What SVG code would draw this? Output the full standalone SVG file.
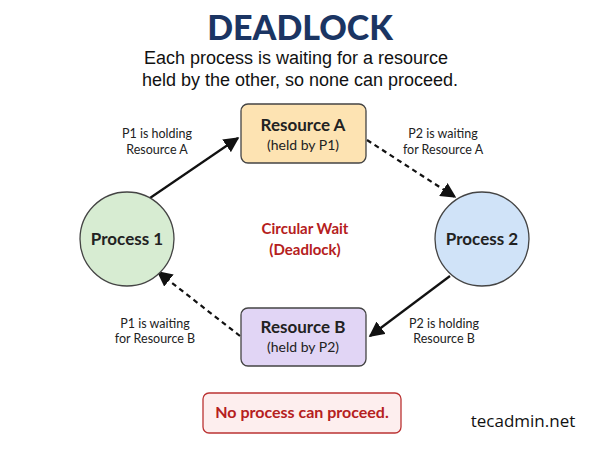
<svg xmlns="http://www.w3.org/2000/svg" width="600" height="450" viewBox="0 0 600 450">
<style>
text{font-family:Lato,"Open Sans",sans-serif;text-anchor:middle}
.n{font-size:17px;font-weight:bold;fill:#222}
.s{font-size:14px;fill:#222}
.l{font-size:12.5px;fill:#222}
.c{stroke:#111;stroke-width:2.2;fill:none}
.d{stroke-dasharray:5,4}
</style>
<defs><marker id="ah" viewBox="0 0 10 10" refX="9" refY="5" markerWidth="7" markerHeight="7" orient="auto"><path d="M0,0L10,5L0,10z" fill="#111"/></marker></defs>
<rect width="600" height="450" fill="#fff"/>
<text x="300" y="40" style="font-size:34px;font-weight:900;fill:#1b3563">DEADLOCK</text>
<text x="296" y="64" style="font-size:18px;fill:#111;font-family:'Liberation Sans',sans-serif">Each process is waiting for a resource</text>
<text x="300" y="86" style="font-size:18px;fill:#111;font-family:'Liberation Sans',sans-serif">held by the other, so none can proceed.</text>
<g id="connectors">
<line class="c" x1="150" y1="198" x2="238" y2="138" marker-end="url(#ah)"/>
<line class="c d" x1="367" y1="140" x2="455" y2="197" marker-end="url(#ah)"/>
<line class="c" x1="450" y1="276" x2="370" y2="336" marker-end="url(#ah)"/>
<line class="c d" x1="240" y1="336" x2="158" y2="272" marker-end="url(#ah)"/>
</g>
<g id="resA"><rect x="241" y="104" width="125" height="59" rx="7" fill="#fde3b2" stroke="#444" stroke-width="1.3"/><text class="n" x="303" y="131">Resource A</text><text class="s" x="303" y="150">(held by P1)</text></g>
<g id="resB"><rect x="241" y="308" width="125" height="58" rx="7" fill="#e1d5f5" stroke="#444" stroke-width="1.3"/><text class="n" x="303" y="333">Resource B</text><text class="s" x="303" y="352">(held by P2)</text></g>
<g id="p1"><circle cx="127" cy="239" r="47" fill="#d7ecd2" stroke="#444" stroke-width="1.3"/><text class="n" x="127" y="245">Process 1</text></g>
<g id="p2"><circle cx="482" cy="239" r="47" fill="#d0e3f8" stroke="#444" stroke-width="1.3"/><text class="n" x="482" y="245">Process 2</text></g>
<text class="l" x="157" y="138">P1 is holding</text><text class="l" x="157" y="154">Resource A</text>
<text class="l" x="443" y="138">P2 is waiting</text><text class="l" x="443" y="154">for Resource A</text>
<text class="l" x="155" y="328">P1 is waiting</text><text class="l" x="155" y="343">for Resource B</text>
<text class="l" x="444" y="328">P2 is holding</text><text class="l" x="444" y="343">Resource B</text>
<text x="305" y="234" style="font-size:15px;font-weight:bold;fill:#b52020">Circular Wait</text>
<text x="305" y="255" style="font-size:15px;font-weight:bold;fill:#b52020">(Deadlock)</text>
<g id="note"><rect x="203" y="393" width="198" height="40" rx="6" fill="#fdeeee" stroke="#b33" stroke-width="1.3"/><text x="302" y="418" style="font-size:16px;font-weight:bold;fill:#b52020">No process can proceed.</text></g>
<text x="523" y="427" style="font-size:17px;fill:#111;font-family:'Open Sans',sans-serif">tecadmin.net</text>
</svg>
